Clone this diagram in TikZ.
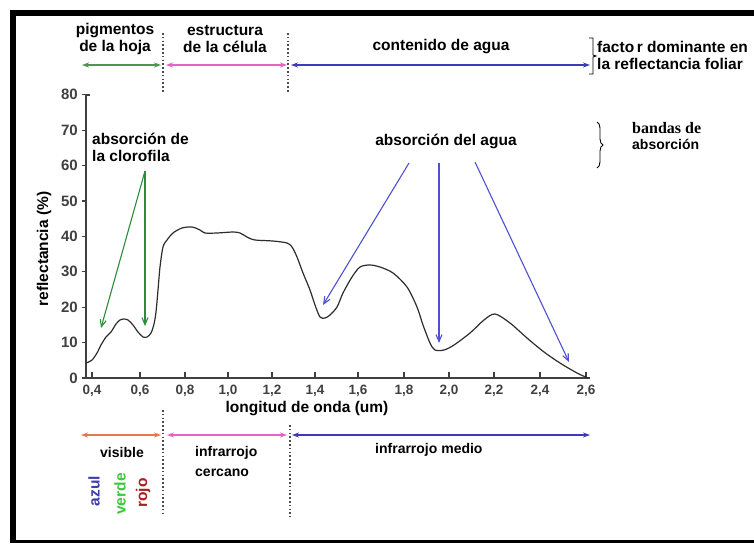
\documentclass[tikz,border=0pt]{standalone}
\usepackage{fontspec}
\setmainfont{Liberation Sans}
\newfontfamily\timesfam{Liberation Serif}
\usetikzlibrary{arrows.meta,decorations.pathreplacing}
\definecolor{cgreen}{RGB}{75,150,80}
\definecolor{cchl}{RGB}{45,140,60}
\definecolor{cpink}{RGB}{228,100,200}
\definecolor{cblue}{RGB}{60,60,180}
\definecolor{cwater}{RGB}{80,80,210}
\definecolor{corange}{RGB}{230,120,80}
\definecolor{cazul}{RGB}{60,60,170}
\definecolor{cverde}{RGB}{60,200,60}
\definecolor{crojo}{RGB}{170,30,30}
\definecolor{ccurve}{RGB}{45,45,45}
\begin{document}
\begin{tikzpicture}[x=1pt,y=-1pt,
  lbl/.style={font=\fontsize{15.5}{17}\selectfont\bfseries, inner sep=0pt, text=black},
  lblb/.style={font=\fontsize{14}{20}\selectfont\bfseries, inner sep=0pt, text=black},
  ticklbl/.style={font=\fontsize{13.5}{15}\selectfont\bfseries, inner sep=0pt, text=black!75},
  yticklbl/.style={font=\fontsize{15}{15}\selectfont\bfseries, inner sep=0pt, text=black!75},
  vlbl/.style={font=\fontsize{15.5}{15}\selectfont\bfseries, inner sep=0pt, rotate=90},
  axisline/.style={line width=1.1pt, draw=black!75},
  dotline/.style={line width=1.6pt, draw=black!70, dash pattern=on 1.6pt off 2.2pt},
  span/.style={line width=1.3pt, {Stealth[length=7pt,width=5pt]}-{Stealth[length=7pt,width=5pt]}},
  absarrow/.style={line width=1.1pt, -{Straight Barb[length=7pt,width=6pt]}},
  curve/.style={line width=1.2pt, draw=ccurve, line join=round}]
\clip (0,0) rectangle (754,544);
\fill[white] (0,0) rectangle (754,544);
% frame
\draw[line width=6pt] (13,543) -- (13,13) -- (760,13);
\draw[line width=3pt] (10,541.5) -- (760,541.5);

% axes
\draw[axisline] (90,95) -- (86,95) -- (86,378) -- (590,378);
\foreach \v in {0,10,...,80} {
  \draw[axisline] (82,{378-3.54*\v}) -- (86,{378-3.54*\v});
  \node[yticklbl, anchor=east] (yl\v) at (78,{378-3.54*\v}) {\v};
}
\foreach \x/\t [count=\i] in {92/{0,4},140/{0,6},185/{0,8},228/{1,0},272/{1,2},315/{1,4},358/{1,6},404/{1,8},449/{2,0},494/{2,2},540/{2,4},586/{2,6}} {
  \draw[axisline] (\x,378) -- (\x,372);
  \node[ticklbl] (xl\i) at (\x,391) {\t};
}

% reflectance curve
\draw[curve] plot[smooth, tension=0.5] coordinates {
(86,363) (92,360) (97,353) (101,345) (106,337) (111,332) (116,324) (120,320) (124,319) (128,320) (133,325) (138,332) (143,337) (147,337) (151,333) (154,324) (156,312) (158,290) (160,267) (163,247) (167,240) (173,233) (182,228) (192,227) (200,230) (205,233) (217,233) (233,232) (240,233) (247,237) (255,240) (273,241) (287,243) (292,247) (297,257) (303,273) (310,290) (315,305) (320,317) (325,318) (330,315) (337,307) (343,293) (352,277) (360,267) (370,265) (380,267) (393,273) (407,287) (417,307) (423,325) (430,343) (435,350) (444,350) (454,345) (470,333) (484,320) (495,314) (510,323) (527,338) (544,352) (560,363) (577,373) (588,378)};

% axis titles
\node[lbl, rotate=90] (ytitle) at (44,249) {reflectancia (\%)};
\node[lbl] (xtitle) at (307,409) {longitud de onda (um)};

% top labels
\node[lbl, align=center] (pig) at (115,39) {pigmentos\\de la hoja};
\node[lbl, align=center] (est) at (225,39) {estructura\\de la célula};
\node[lbl] (agua) at (441,47) {contenido de agua};
\node[lbl, align=left, anchor=west] (factor) at (597,55) {facto\,r dominante en\\la reflectancia foliar};
\draw[line width=0.9pt] (589,38) -- (593,38) -- (593,55) -- (596,56) -- (593,57) -- (593,74) -- (589,74);

% dotted separators
\coordinate (dt1a) at (163,33); \coordinate (dt1b) at (163,92);
\coordinate (dt2a) at (288,33); \coordinate (dt2b) at (288,92);
\draw[dotline] (dt1a) -- (dt1b);
\draw[dotline] (dt2a) -- (dt2b);
\coordinate (db1a) at (163,410); \coordinate (db1b) at (163,515);
\coordinate (db2a) at (290,425); \coordinate (db2b) at (290,517);
\draw[dotline] (db1a) -- (db1b);
\draw[dotline] (db2a) -- (db2b);

% top span arrows
\coordinate (ta1) at (82,65); \coordinate (ta2) at (161,65);
\coordinate (ta3) at (166,65); \coordinate (ta4) at (287,65);
\coordinate (ta5) at (291,65); \coordinate (ta6) at (590,65);
\draw[span, draw=cgreen, cgreen] (ta1) -- (ta2);
\draw[span, draw=cpink, cpink] (ta3) -- (ta4);
\draw[span, draw=cblue, cblue] (ta5) -- (ta6);

% bottom span arrows
\coordinate (ba1) at (81,435); \coordinate (ba2) at (161,435);
\coordinate (ba3) at (167,435); \coordinate (ba4) at (287,435);
\coordinate (ba5) at (292,435); \coordinate (ba6) at (590,435);
\draw[span, draw=corange, corange] (ba1) -- (ba2);
\draw[span, draw=cpink, cpink] (ba3) -- (ba4);
\draw[span, draw=cblue, cblue] (ba5) -- (ba6);

% absorption labels
\node[lbl, align=left, anchor=west] (clo) at (92,147) {absorción de\\la clorofila};
\node[lbl] (h2o) at (446,141) {absorción del agua};
\node[font=\fontsize{16}{16}\selectfont\bfseries\timesfam, inner sep=0pt, anchor=west] (bandas) at (632,128) {bandas de};
\node[lblb, anchor=west] (bandas2) at (632,144) {absorción};
\draw[line width=0.9pt, decorate, decoration={brace, amplitude=6pt}] (597,122) -- (597,168);

% chlorophyll arrows
\coordinate (cs) at (145,171);
\coordinate (c1) at (101,328);
\coordinate (c2) at (145,326);
\draw[absarrow, draw=cchl] (cs) -- (c1);
\draw[absarrow, draw=cchl] (cs) -- (c2);

% water arrows
\coordinate (w1s) at (409,163); \coordinate (w1e) at (323,305);
\coordinate (w2s) at (439,163); \coordinate (w2e) at (439,343);
\coordinate (w3s) at (475,162); \coordinate (w3e) at (569,362);
\draw[absarrow, draw=cwater] (w1s) -- (w1e);
\draw[absarrow, draw=cwater] (w2s) -- (w2e);
\draw[absarrow, draw=cwater] (w3s) -- (w3e);

% bottom labels
\node[lblb] (vis) at (122,452) {visible};
\node[lblb, align=left, anchor=north west] (nir) at (195,446) {infrarrojo\\cercano};
\node[lblb, anchor=west] (mir) at (375,450) {infrarrojo medio};
\node[vlbl, text=cazul] (azul) at (94,491) {azul};
\node[vlbl, text=cverde] (verde) at (120,494) {verde};
\node[vlbl, text=crojo] (rojo) at (143,493) {rojo};
\end{tikzpicture}
\end{document}
